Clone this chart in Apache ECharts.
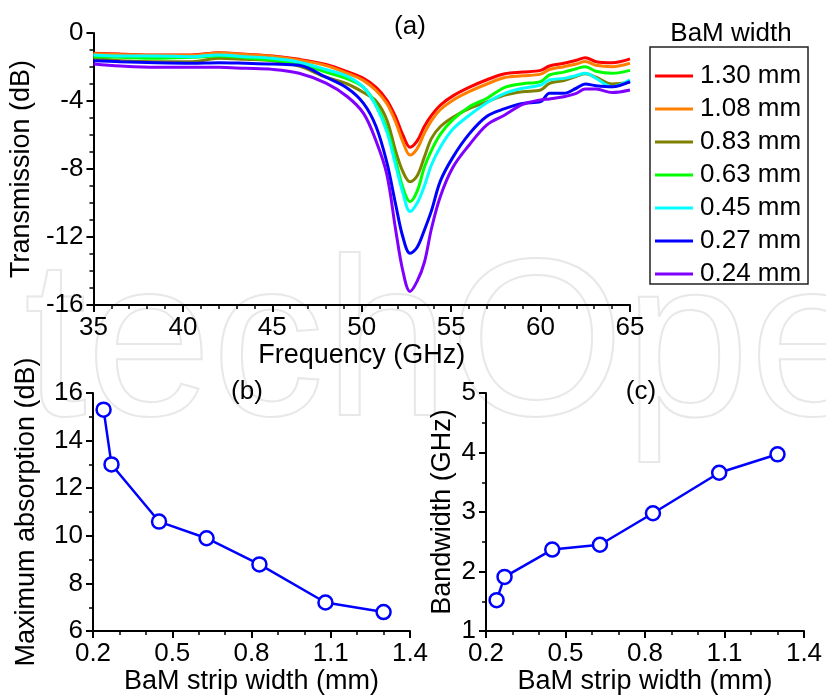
<!DOCTYPE html>
<html><head><meta charset="utf-8">
<script src="https://cdn.jsdelivr.net/npm/echarts@6/dist/echarts.min.js"></script>
<style>html,body{margin:0;padding:0;background:#fff}#chart{width:826px;height:696px}</style>
</head><body><div id="chart"></div>
<script>
// ---- Panel (a): transmission spectra ----
const freqGHz = [35, 36.5, 38.5, 40.5, 42, 43.5, 45, 46.5, 48, 49.2, 50.1, 50.8, 51.4, 51.9, 52.3, 52.7, 53.1, 53.5, 53.9, 54.4, 55.1, 56, 57, 58, 59, 60, 60.5, 61.3, 62, 62.5, 63.1, 64, 65];
const seriesNames = ['1.30 mm', '1.08 mm', '0.83 mm', '0.63 mm', '0.45 mm', '0.27 mm', '0.24 mm'];
const seriesColors = ['#ff0000', '#ff8000', '#808000', '#00ff00', '#00ffff', '#0000ff', '#8000ff'];
const t130 = [-1.19,-1.24,-1.29,-1.29,-1.16,-1.25,-1.35,-1.55,-1.85,-2.28,-2.67,-3.2,-3.94,-4.95,-6.0,-6.72,-6.35,-5.5,-4.85,-4.24,-3.7,-3.2,-2.75,-2.4,-2.3,-2.2,-1.94,-1.78,-1.6,-1.45,-1.69,-1.75,-1.52];
const t108 = [-1.22,-1.27,-1.31,-1.31,-1.18,-1.27,-1.38,-1.6,-1.92,-2.38,-2.8,-3.38,-4.15,-5.25,-6.4,-7.18,-6.8,-5.9,-5.15,-4.5,-3.95,-3.45,-3.0,-2.62,-2.52,-2.42,-2.15,-1.98,-1.82,-1.68,-1.9,-1.98,-1.78];
const t083 = [-1.49,-1.63,-1.69,-1.69,-1.49,-1.55,-1.63,-1.95,-2.6,-3.0,-3.5,-4.0,-5.1,-6.95,-8.15,-8.75,-8.4,-7.3,-6.2,-5.5,-4.95,-4.45,-4.05,-3.65,-3.45,-3.35,-2.96,-2.8,-2.55,-2.4,-2.6,-3.0,-2.9];
const t063 = [-1.39,-1.43,-1.49,-1.43,-1.35,-1.45,-1.6,-1.8,-2.3,-2.7,-3.2,-4.2,-5.6,-7.5,-9.1,-9.92,-9.3,-7.9,-6.9,-5.95,-5.1,-4.35,-3.84,-3.2,-2.98,-2.86,-2.47,-2.3,-2.1,-1.98,-2.25,-2.37,-2.2];
const t045 = [-1.29,-1.35,-1.35,-1.39,-1.29,-1.39,-1.49,-1.72,-2.15,-2.55,-3.2,-4.3,-5.8,-7.8,-9.4,-10.5,-10.0,-9.0,-7.75,-6.7,-5.65,-4.85,-4.1,-3.55,-3.25,-3.06,-2.76,-2.67,-2.5,-2.37,-2.67,-3.16,-2.76];
const t027 = [-1.63,-1.69,-1.75,-1.78,-1.75,-1.78,-1.82,-1.9,-2.6,-3.25,-4.14,-5.5,-7.6,-10.1,-12.0,-12.96,-12.6,-11.6,-10.45,-8.7,-7.3,-5.95,-4.9,-4.45,-4.14,-4.04,-3.55,-3.55,-3.25,-3.0,-3.1,-3.16,-2.86];
const t024 = [-1.82,-1.94,-2.02,-2.02,-2.02,-2.08,-2.14,-2.37,-2.95,-3.75,-4.73,-6.35,-8.3,-11.6,-14.0,-15.2,-14.6,-13.5,-11.5,-9.6,-7.9,-6.6,-5.4,-4.82,-4.2,-3.94,-3.88,-3.75,-3.55,-3.3,-3.3,-3.5,-3.35];
const transmissionSets = [t130, t108, t083, t063, t045, t027, t024];

// ---- Panels (b) and (c) ----
const stripWidthMm = [0.24, 0.27, 0.45, 0.63, 0.83, 1.08, 1.30];
const maxAbsorptionDb = [15.3, 13.0, 10.6, 9.9, 8.8, 7.2, 6.8];
const bandwidthGHz = [1.52, 1.91, 2.37, 2.45, 2.98, 3.66, 3.97];

const FONT = '"Liberation Sans", Arial, sans-serif';
const FS = 26;   // tick labels
const FN = 27;   // axis names
const FONTCSS = FS + 'px "Liberation Sans", Arial, sans-serif';

function axisCommon(extra) {
  return Object.assign({
    type: 'value',
    axisLine: { show: true, onZero: false, lineStyle: { color: '#000', width: 2 } },
    axisTick: { show: true, inside: false, length: 7, lineStyle: { color: '#000', width: 2 } },
    minorTick: { show: true, length: 4, lineStyle: { color: '#000', width: 1.5 } },
    splitLine: { show: false },
    minorSplitLine: { show: false },
    axisLabel: { fontSize: FS, color: '#000', fontFamily: FONT, margin: 10 },
    nameLocation: 'middle',
    nameTextStyle: { fontSize: FN, color: '#000', fontFamily: FONT }
  }, extra);
}
function minor(n) {
  return { show: true, splitNumber: n, length: 4, lineStyle: { color: '#000', width: 1.5 } };
}
const widthLabel = { fontSize: FS, color: '#000', fontFamily: FONT, margin: 10, formatter: v => v.toFixed(1) };

const series = [];
seriesNames.forEach((name, i) => {
  series.push({
    name: name, type: 'line', xAxisIndex: 0, yAxisIndex: 0,
    data: freqGHz.map((f, k) => [f, transmissionSets[i][k]]),
    showSymbol: false, smooth: 0.35,
    lineStyle: { color: seriesColors[i], width: 3 },
    itemStyle: { color: seriesColors[i] },
    z: 2 + i
  });
});
const markerSeries = (xi, yi, vals) => ({
  type: 'line', xAxisIndex: xi, yAxisIndex: yi,
  data: stripWidthMm.map((w, k) => [w, vals[k]]),
  symbol: 'circle', symbolSize: 14, showSymbol: true,
  lineStyle: { color: '#0000ff', width: 2.5 },
  itemStyle: { color: '#ffffff', borderColor: '#0000ff', borderWidth: 2.5 },
  z: 5
});
series.push(markerSeries(1, 1, maxAbsorptionDb));
series.push(markerSeries(2, 2, bandwidthGHz));

const option = {
  animation: false,
  backgroundColor: '#ffffff',
  textStyle: { fontFamily: FONT },
  grid: [
    { left: 93, top: 33, width: 537, height: 272 },
    { left: 93, top: 393, width: 317, height: 240 },
    { left: 486, top: 393, width: 318, height: 240 }
  ],
  xAxis: [
    axisCommon({ gridIndex: 0, min: 35, max: 65, interval: 5, minorTick: minor(5), name: 'Frequency (GHz)', nameGap: 33 }),
    axisCommon({ gridIndex: 1, min: 0.2, max: 1.4, interval: 0.3, minorTick: minor(3), axisLabel: widthLabel, name: 'BaM strip width (mm)', nameGap: 34 }),
    axisCommon({ gridIndex: 2, min: 0.2, max: 1.4, interval: 0.3, minorTick: minor(3), axisLabel: widthLabel, name: 'BaM strip width (mm)', nameGap: 34 })
  ],
  yAxis: [
    axisCommon({ gridIndex: 0, min: -16, max: 0, interval: 4, minorTick: minor(4), name: 'Transmission (dB)', nameGap: 53 }),
    axisCommon({ gridIndex: 1, min: 6, max: 16, interval: 2, minorTick: minor(2), name: 'Maximum absorption (dB)', nameGap: 53 }),
    axisCommon({ gridIndex: 2, min: 1, max: 5, interval: 1, minorTick: minor(2), name: 'Bandwidth (GHz)', nameGap: 30 })
  ],
  legend: {
    data: seriesNames,
    orient: 'vertical', left: 655, top: 63, padding: 0,
    icon: 'rect', itemWidth: 38, itemHeight: 3, itemGap: 7,
    textStyle: { fontSize: 26, color: '#000', fontFamily: FONT, lineHeight: 26, padding: [0, 0, 0, 2] }
  },
  graphic: { elements: [
    { type: 'text', x: 24, y: 353, z: -10, silent: true,
      style: { text: 'techOpe', font: '225px "Liberation Sans", Arial, sans-serif', fill: 'rgba(0,0,0,0)', stroke: '#e8e8e8', lineWidth: 2, verticalAlign: 'middle' } },
    { type: 'rect', shape: { x: 650, y: 47, width: 158, height: 237 }, style: { fill: 'rgba(0,0,0,0)', stroke: '#222', lineWidth: 1.5 }, z: 10 },
    { type: 'text', x: 731, y: 34, style: { text: 'BaM width', font: FONTCSS, fill: '#000', align: 'center', verticalAlign: 'middle' }, z: 10 },
    { type: 'text', x: 410, y: 27, style: { text: '(a)', font: FONTCSS, fill: '#000', align: 'center', verticalAlign: 'middle' }, z: 10 },
    { type: 'text', x: 247, y: 392, style: { text: '(b)', font: FONTCSS, fill: '#000', align: 'center', verticalAlign: 'middle' }, z: 10 },
    { type: 'text', x: 641, y: 392, style: { text: '(c)', font: FONTCSS, fill: '#000', align: 'center', verticalAlign: 'middle' }, z: 10 }
  ] },
  series: series
};

const chart = echarts.init(document.getElementById('chart'), null, { renderer: 'canvas' });
chart.setOption(option);
</script>
</body></html>
